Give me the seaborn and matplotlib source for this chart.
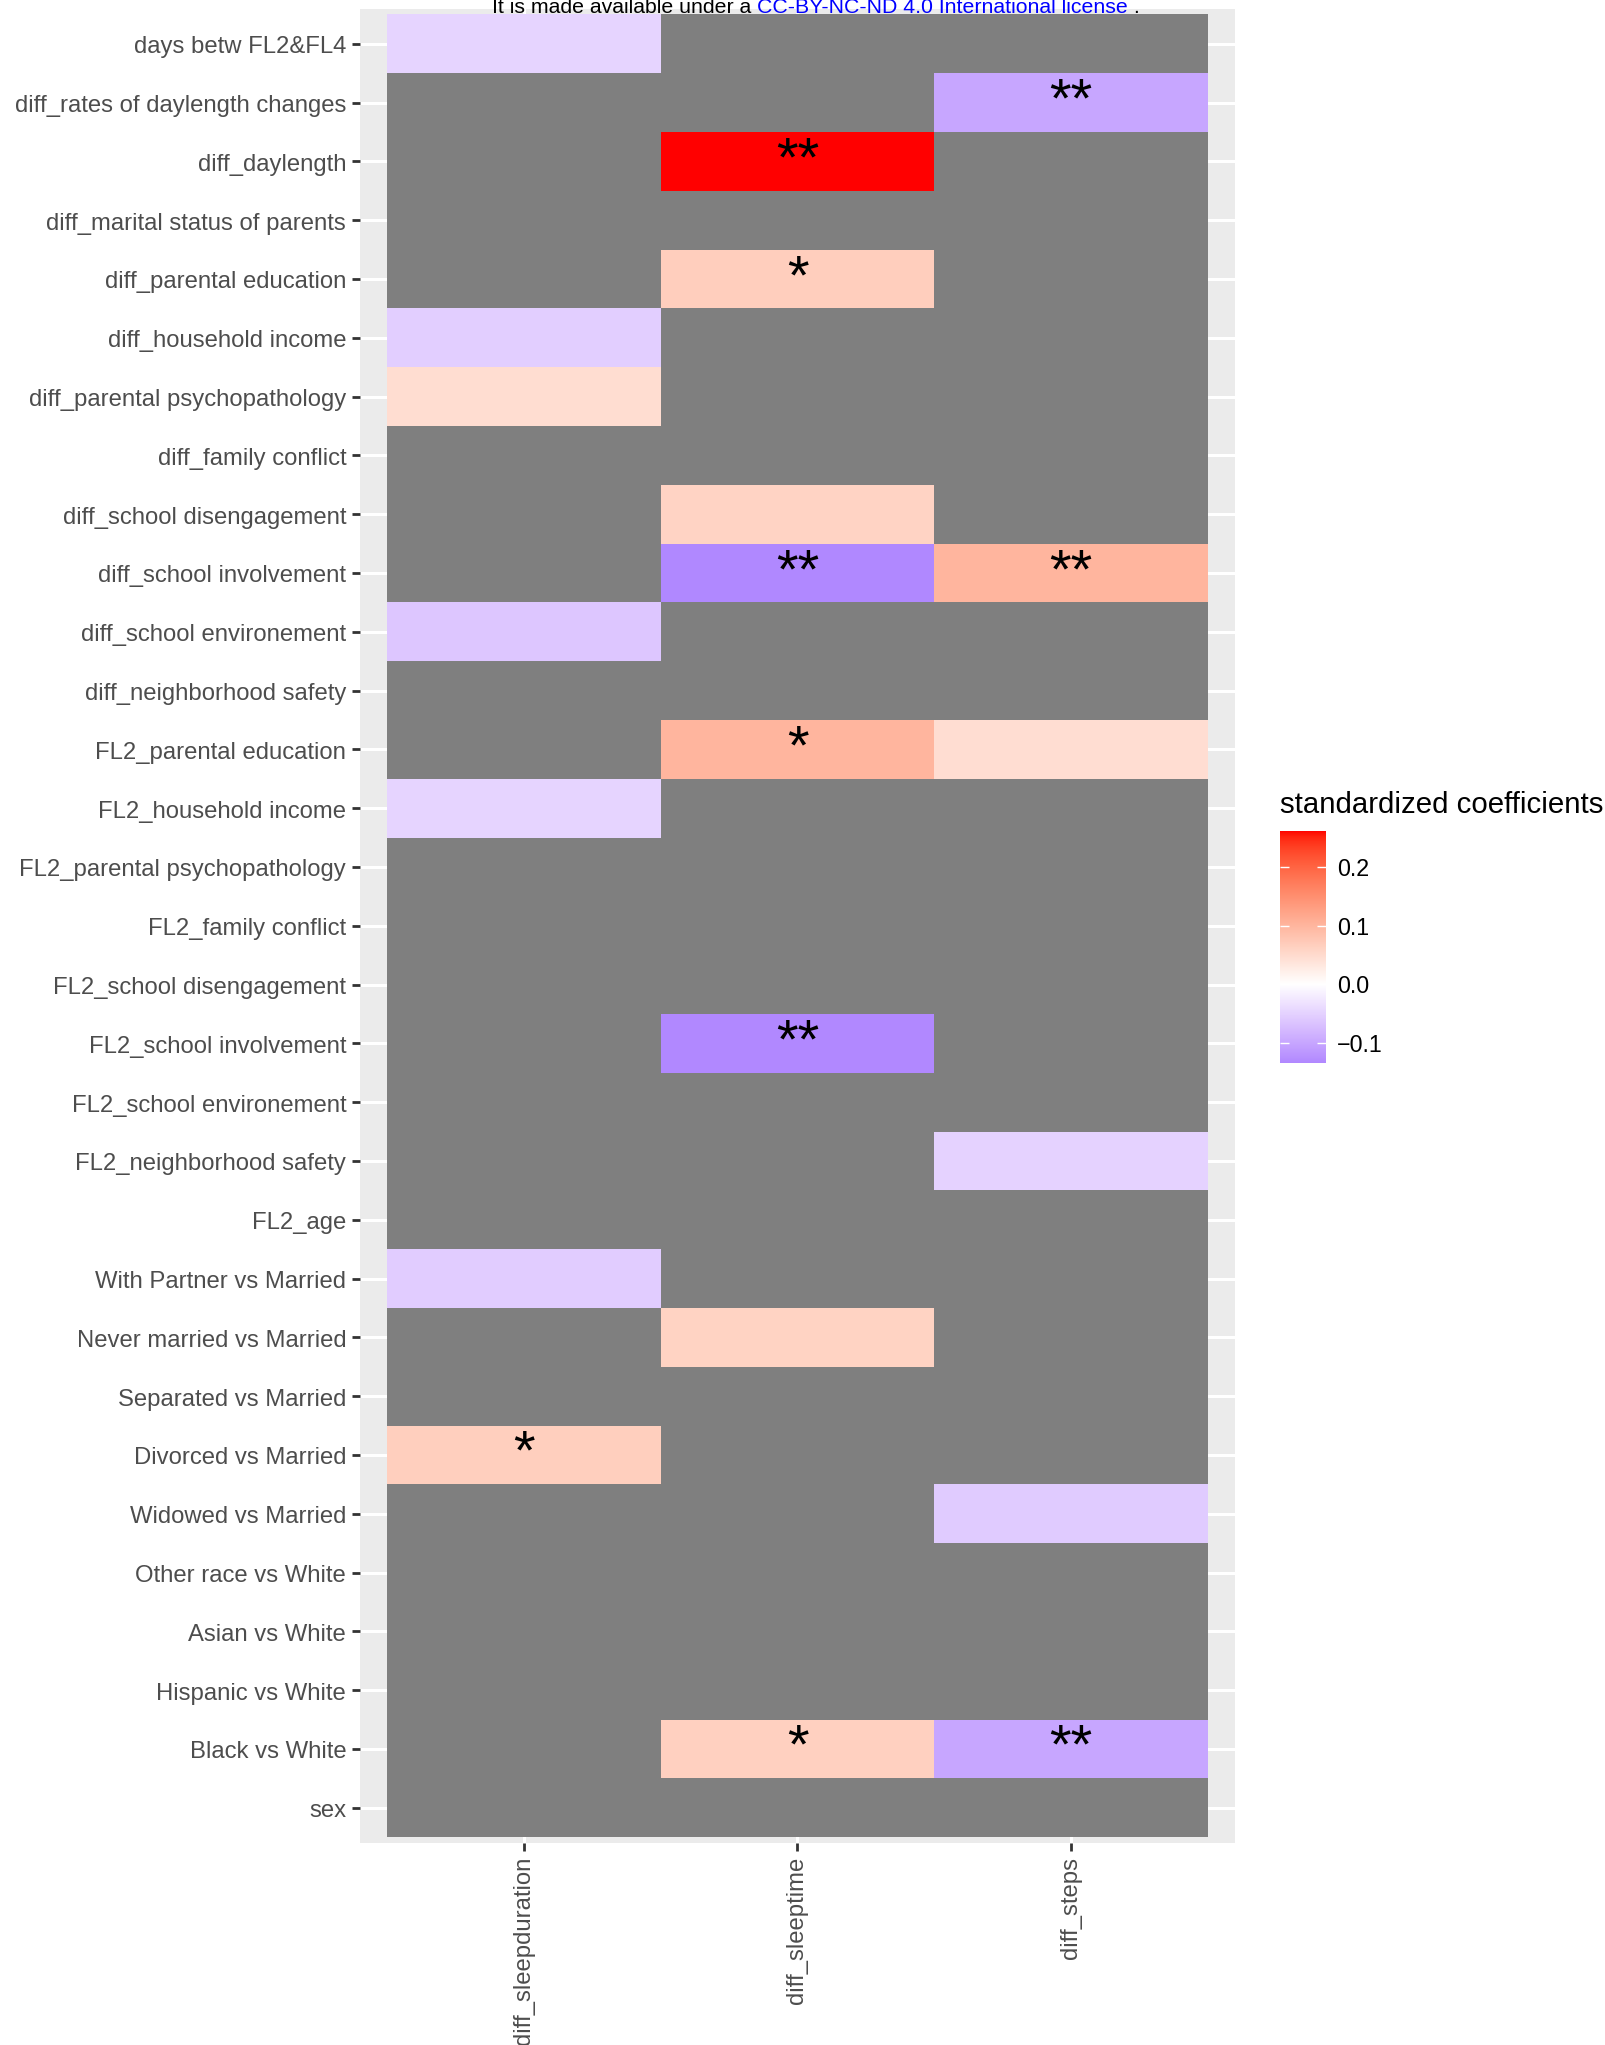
import numpy as np
import pandas as pd
import matplotlib
matplotlib.use("Agg")
import matplotlib.pyplot as plt
import matplotlib.transforms as mtransforms
from matplotlib.colors import ListedColormap
import seaborn as sns

# ---------------- data ----------------
predictors = [
    "days betw FL2&FL4", "diff_rates of daylength changes", "diff_daylength",
    "diff_marital status of parents", "diff_parental education", "diff_household income",
    "diff_parental psychopathology", "diff_family conflict", "diff_school disengagement",
    "diff_school involvement", "diff_school environement", "diff_neighborhood safety",
    "FL2_parental education", "FL2_household income", "FL2_parental psychopathology",
    "FL2_family conflict", "FL2_school disengagement", "FL2_school involvement",
    "FL2_school environement", "FL2_neighborhood safety", "FL2_age",
    "With Partner vs Married", "Never married vs Married", "Separated vs Married",
    "Divorced vs Married", "Widowed vs Married", "Other race vs White",
    "Asian vs White", "Hispanic vs White", "Black vs White", "sex",
]
outcomes = ["diff_sleepduration", "diff_sleeptime", "diff_steps"]
NA = np.nan

coef_sleepduration = [-0.048, NA, NA, NA, NA, -0.055, 0.047, NA, NA, NA,
                      -0.063, NA, NA, -0.048, NA, NA, NA, NA, NA, NA,
                      NA, -0.056, NA, NA, 0.066, NA, NA, NA, NA, NA, NA]
coef_sleeptime = [NA, NA, 0.262, NA, 0.068, NA, NA, NA, 0.060, -0.135,
                  NA, NA, 0.100, NA, NA, NA, NA, -0.134, NA, NA,
                  NA, NA, 0.061, NA, NA, NA, NA, NA, NA, 0.064, NA]
coef_steps = [NA, -0.100, NA, NA, NA, NA, NA, NA, NA, 0.100,
              NA, NA, 0.046, NA, NA, NA, NA, NA, NA, -0.050,
              NA, NA, NA, NA, NA, -0.058, NA, NA, NA, -0.100, NA]

sig_sleepduration = ["", "", "", "", "", "", "", "", "", "",
                     "", "", "", "", "", "", "", "", "", "",
                     "", "", "", "", "*", "", "", "", "", "", ""]
sig_sleeptime = ["", "", "**", "", "*", "", "", "", "", "**",
                 "", "", "*", "", "", "", "", "**", "", "",
                 "", "", "", "", "", "", "", "", "", "*", ""]
sig_steps = ["", "**", "", "", "", "", "", "", "", "**",
             "", "", "", "", "", "", "", "", "", "",
             "", "", "", "", "", "", "", "", "", "**", ""]

legend_title = "standardized coefficients"
cbar_ticks = [-0.1, 0.0, 0.1, 0.2]
cbar_ticklabels = ["\u22120.1", "0.0", "0.1", "0.2"]

df = pd.DataFrame({outcomes[0]: coef_sleepduration,
                   outcomes[1]: coef_sleeptime,
                   outcomes[2]: coef_steps}, index=predictors)
annot = pd.DataFrame({outcomes[0]: sig_sleepduration,
                      outcomes[1]: sig_sleeptime,
                      outcomes[2]: sig_steps}, index=predictors)

# ---------------- colour scale (ggplot gradient2 in Lab) ----------------
_M = np.array([[0.4124564, 0.3575761, 0.1804375],
               [0.2126729, 0.7151522, 0.0721750],
               [0.0193339, 0.1191920, 0.9503041]])
_W = np.array([0.95047, 1.0, 1.08883])


def srgb_to_lab(rgb):
    rgb = np.asarray(rgb, float)
    lin = np.where(rgb <= 0.04045, rgb / 12.92, ((rgb + 0.055) / 1.055) ** 2.4)
    xyz = lin @ _M.T
    t = xyz / _W
    f = np.where(t > (6 / 29) ** 3, np.cbrt(t), t / (3 * (6 / 29) ** 2) + 4 / 29)
    L = 116 * f[..., 1] - 16
    a = 500 * (f[..., 0] - f[..., 1])
    b = 200 * (f[..., 1] - f[..., 2])
    return np.stack([L, a, b], -1)


def lab_to_srgb(lab):
    L, a, b = lab[..., 0], lab[..., 1], lab[..., 2]
    fy = (L + 16) / 116
    fx = fy + a / 500
    fz = fy - b / 200
    f = np.stack([fx, fy, fz], -1)
    t = np.where(f > 6 / 29, f ** 3, 3 * (6 / 29) ** 2 * (f - 4 / 29))
    xyz = t * _W
    lin = np.clip(xyz @ np.linalg.inv(_M).T, 0, 1)
    rgb = np.where(lin <= 0.0031308, 12.92 * lin, 1.055 * lin ** (1 / 2.4) - 0.055)
    return np.clip(rgb, 0, 1)


vmin = float(np.nanmin(df.values))
vmax = float(np.nanmax(df.values))
mabs = max(abs(vmin), abs(vmax))
lab_low = srgb_to_lab([0.0, 0.0, 1.0])
lab_mid = srgb_to_lab([1.0, 1.0, 1.0])
lab_high = srgb_to_lab([1.0, 0.0, 0.0])
vs = np.linspace(vmin, vmax, 512)
cols = []
for v in vs:
    if v < 0:
        lab = lab_mid + (-v / mabs) * (lab_low - lab_mid)
    else:
        lab = lab_mid + (v / mabs) * (lab_high - lab_mid)
    cols.append(lab_to_srgb(lab))
cmap = ListedColormap(np.array(cols))
cmap.set_bad("#7F7F7F")

# ---------------- figure ----------------
plt.rcParams["font.family"] = ["Liberation Sans", "DejaVu Sans"]
W, H = 1606, 2045
DPI = 200
fig = plt.figure(figsize=(W / DPI, H / DPI), dpi=DPI, facecolor="white")

px0, px1, py0, py1 = 360, 1235, 8.5, 1843
ax = fig.add_axes([px0 / W, 1 - py1 / H, (px1 - px0) / W, (py1 - py0) / H])
cx0, cx1, cy0, cy1 = 1280, 1326, 831, 1063
cax = fig.add_axes([cx0 / W, 1 - cy1 / H, (cx1 - cx0) / W, (cy1 - cy0) / H])

sns.heatmap(df, ax=ax, cbar_ax=cax, cmap=cmap, vmin=vmin, vmax=vmax,
            annot=annot.values, fmt="", annot_kws={"size": 20, "color": "black"},
            xticklabels=True, yticklabels=True,
            cbar_kws={"ticks": cbar_ticks})

ax.set_xlim(-0.1, len(outcomes) + 0.1)
ax.set_ylim(len(predictors) + 0.1, -0.1)
ax.set_facecolor("#EBEBEB")
ax.set_axisbelow(True)
ax.grid(True, color="white", linewidth=1.1)
for s in ax.spines.values():
    s.set_visible(False)
ax.set_xlabel("")
ax.set_ylabel("")
ax.tick_params(axis="both", length=2.75, width=1.0, color="#333333",
               labelcolor="#4D4D4D", labelsize=8.6, pad=2.2)
plt.setp(ax.get_yticklabels(), rotation=0)
plt.setp(ax.get_xticklabels(), rotation=90, va="top", ha="center")
shift = mtransforms.ScaledTranslation(0, -3.5 / DPI, fig.dpi_scale_trans)
for lbl in ax.get_yticklabels():
    lbl.set_transform(lbl.get_transform() + shift)

cbar = ax.collections[0].colorbar
cbar.outline.set_visible(False)
cbar.set_ticks(cbar_ticks, labels=cbar_ticklabels)
cax.tick_params(axis="y", direction="in", length=3.3, width=0.5, color="white",
                left=True, right=True, labelleft=False, labelright=True,
                labelsize=8.4, labelcolor="black", pad=4)

fig.text(1280 / W, 1 - 813 / H, legend_title, fontsize=10.6, color="black",
         ha="left", va="baseline")

# header line (partly cut off at top as in the source)
parts = [("It is made available under a ", "black"),
         ("CC-BY-NC-ND 4.0 International license", "blue"),
         (" .", "black")]
hdr_font = ["Liberation Sans Narrow", "Liberation Sans"]
texts = [fig.text(0, 1 - 13 / H, s, color=c, fontsize=7.65, family=hdr_font,
                  ha="left", va="baseline") for s, c in parts]
renderer = fig.canvas.get_renderer()
widths = [t.get_window_extent(renderer).width for t in texts]
x = 816 - sum(widths) / 2
for t, w in zip(texts, widths):
    t.set_x(x / W)
    x += w

fig.savefig("out.png", dpi=DPI, facecolor="white")
